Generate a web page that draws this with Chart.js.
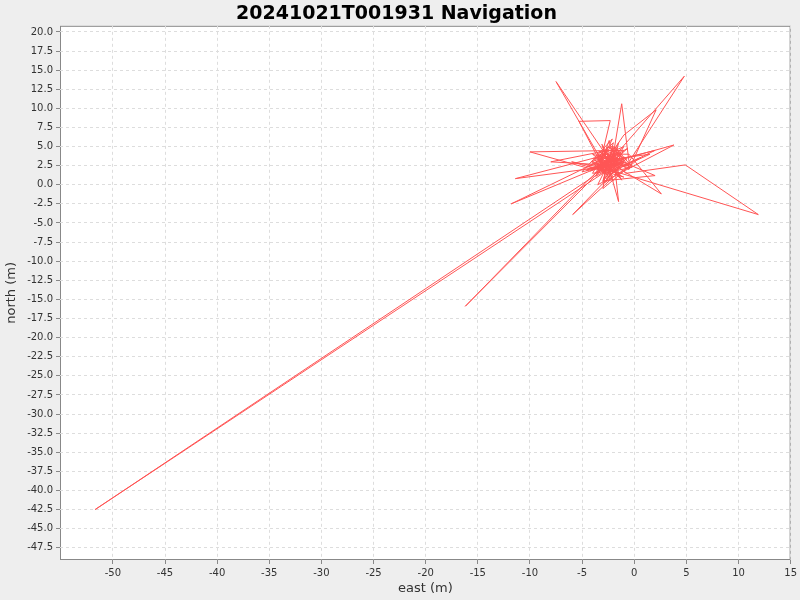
<!DOCTYPE html>
<html>
<head>
<script src="https://cdn.jsdelivr.net/npm/chart.js@4"></script>
<style>
body { margin: 0; background: #eeeeee; }
#wrap { width: 800px; height: 600px; }
</style>
</head>
<body>
<div id="wrap"><canvas id="navChart"></canvas></div>
<script>
const east = [-2, -3, -1.5, -4, -2.5, -1, -3.5, -2, -7.5, -3, -1, -3, -4, -51.7, -3, -2, -1.2, -0.5, 4.8, -3,
    -2, -4, -10, -1, -2.5, -5.3, -2.3, -3.5, -1, 2.1, -0.5, -3, -11.4, -2, -1.5, -3.5, 3.8, -2, -0.8, 4.9,
    11.9, -2.5, -3, -1.5, -2, -11.8, -3, -1, -5.9, -2, -3.5, -0.5, 2.6, -2.5, -4.5, -16.2, -3, -1.5, 2, -3,
    -2, -4, -1, -6, -2, 0.5, -3, -2.5, -8, -1.5, -3.5, -1, -2.5, 2, -3, -0.5, -4, -2, 1.5, -2.8,
    -3.2, -1.8, -2.6, -0.9, -3.8, -2.1, -1.4, -3.3, -2.7, -0.6, -4.2, -1.9, -2.4, -3.6, -1.1, -2.9, -0.3, -3.4, -2.2, -1.6,
    -4.4, -2.8, -1.2, -3.1, -2.3, -0.7, -3.7, -1.7, -2.5, -4.6, -1.3, -3.0, -2.0, -0.4, -3.9, -2.6, -1.5, -3.3, -2.1, -5.0,
    -1.0, -2.7, -3.5, -1.8, -0.2, -2.9, -4.1, -1.4, -3.2, -2.4]
const north = [3, 4, 2, 1.5, 5, 3.5, 2.5, 0.5, 13.5, 4.5, 2.5, 3, 1, -42.5, 1.5, 4, 10.6, 3, 14.2, 2,
    3.5, 2, 4.3, 4.5, 1, 8.3, 8.4, 1.5, 6.5, 9.8, 2, 3.8, 0.8, 2.5, 5.5, 0, 5.2, 3, 1.5, 2.6,
    -3.9, 2, 5, -2.2, 4, -2.5, 2.5, 3, -3.9, 1, 4, 4, -1.2, 3, 0.5, -15.9, 2.2, 3.2, 1.2, 0.5,
    5.5, 3, 1, 3, 2, 3.5, -0.5, 4.5, 3, 2.5, 3.5, 5, 1.5, 4.5, 2.8, 2.5, 4, 1.8, 4, 3.2,
    2.1, 4.2, 1.2, 3.6, 2.7, 5.1, 0.9, 3.9, 2.3, 4.8, 1.8, 2.9, 5.8, 1.4, 3.3, 0.2, 2.6, 4.4, 3.1, 1.6,
    2.4, 3.7, 0.6, 5.3, 2.0, 3.4, 1.1, 4.6, 2.8, 1.9, 3.8, 0.4, 5.0, 2.2, 3.5, 1.3, 4.1, 2.5, 6.0, 1.7,
    2.9, 0.8, 3.6, 4.9, 2.3, 1.5, 3.0, 4.3, 1.9, 2.6]

const yTicks = [20, 17.5, 15, 12.5, 10, 7.5, 5, 2.5, 0, -2.5, -5, -7.5, -10, -12.5, -15, -17.5, -20,
    -22.5, -25, -27.5, -30, -32.5, -35, -37.5, -40, -42.5, -45, -47.5]
const xTicks = [-50, -45, -40, -35, -30, -25, -20, -15, -10, -5, 0, 5, 10, 15]

const points = east.map((x, i) => ({ x: x, y: north[i] }))

const plotBg = {
    id: 'plotBg',
    beforeDraw(chart) {
        const { ctx, chartArea: a } = chart
        ctx.save()
        ctx.fillStyle = '#ffffff'
        ctx.fillRect(a.left, a.top, a.right - a.left, a.bottom - a.top)
        ctx.strokeStyle = '#888888'
        ctx.strokeRect(a.left + 0.5, a.top + 0.5, a.right - a.left - 1, a.bottom - a.top - 1)
        ctx.restore()
    }
}

const setTicks = (vals) => (scale) => {
    scale.ticks = vals.map(v => ({ value: v }))
}

const grid = { color: '#dddddd', tickColor: '#888888', tickLength: 4 }
const tickFont = { family: 'DejaVu Sans', size: 10 }
const titleFont = { family: 'DejaVu Sans', size: 13 }

new Chart(document.getElementById('navChart'), {
    type: 'scatter',
    data: {
        datasets: [{
            data: points,
            showLine: true,
            borderColor: 'rgb(255,85,85)',
            borderWidth: 1,
            pointRadius: 0,
            tension: 0
        }]
    },
    options: {
        responsive: true,
        maintainAspectRatio: false,
        animation: false,
        layout: { padding: { right: 7 } },
        plugins: {
            legend: { display: false },
            tooltip: { enabled: false },
            title: {
                display: true,
                text: '20241021T001931 Navigation',
                color: '#000',
                font: { family: 'DejaVu Sans', size: 19, weight: 'bold' },
                padding: { top: 3, bottom: 0 }
            }
        },
        scales: {
            x: {
                min: -55.07, max: 15,
                ticks: { color: '#333', font: tickFont, maxRotation: 0, autoSkip: false },
                afterBuildTicks: setTicks(xTicks),
                afterFit: (s) => { s.height = 40 },
                grid: grid,
                border: { display: false, dash: [3, 3] },
                title: { display: true, text: 'east (m)', color: '#333', font: titleFont, padding: { top: 0, bottom: 4 } }
            },
            y: {
                min: -49.1, max: 20.8,
                ticks: { color: '#333', font: tickFont, autoSkip: false, callback: (v) => v.toFixed(1) },
                afterBuildTicks: setTicks(yTicks),
                afterFit: (s) => { s.width = 60 },
                grid: grid,
                border: { display: false, dash: [3, 3] },
                title: { display: true, text: 'north (m)', color: '#333', font: titleFont, padding: { top: 4, bottom: 0 } }
            }
        }
    },
    plugins: [plotBg]
})
</script>
</body>
</html>
